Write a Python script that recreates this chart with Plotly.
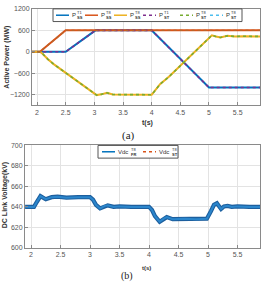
import plotly.graph_objects as go

W, H = 264, 285

# ---------------- data ----------------
t_p1_ss = [1.9, 2.5, 3.02, 4.0, 5.0, 5.9]
p1_ss = [0, 0, 600, 600, -1000, -1000]

t_p8a_ss = [1.9, 2.05, 2.5, 5.9]
p8a_ss = [0, 0, 600, 600]

t_p8b_ss = [1.9, 2.05, 2.1, 2.19, 2.29, 3.04, 3.12, 3.22, 3.32, 3.5, 4.0, 4.05, 4.15,
            4.3, 5.05, 5.12, 5.2, 5.32, 5.45, 5.6, 5.9]
p8b_ss = [0, 0, -60, -210, -345, -1210, -1190, -1145, -1195, -1200, -1200, -1100, -900,
          -700, 460, 430, 400, 445, 430, 435, 430]

t_vdc = [1.9, 2.05, 2.1, 2.16, 2.25, 2.35, 2.45, 2.6, 2.8, 3.0, 3.05, 3.1, 3.17, 3.25,
         3.3, 3.4, 3.5, 3.7, 4.0, 4.05, 4.1, 4.18, 4.25, 4.3, 4.4, 4.6, 4.8, 4.98, 5.05,
         5.1, 5.15, 5.22, 5.27, 5.33, 5.4, 5.5, 5.7, 5.9]
vdc_fr = [640, 640, 645, 650.5, 647.5, 649.5, 650, 649, 649.5, 649.5, 647, 642, 638.5, 641,
          641.5, 640, 640.5, 640, 640, 637, 631, 625.5, 628.5, 630, 628, 628.5, 628, 628.5, 636,
          642, 643.5, 638, 640.5, 641, 640, 640.5, 640, 640]

top_yticks = [-1200, -600, 0, 600, 1200]
bot_yticks = [600, 620, 640, 660, 680, 700]
xticks = [2, 2.5, 3, 3.5, 4, 4.5, 5, 5.5]
xticklabels = ["2", "2.5", "3", "3.5", "4", "4.5", "5", "5.5"]

BLUE = "#0072BD"
ORANGE = "#D95319"
YELLOW = "#EDB120"
PURPLE = "#7E2F8E"
GREEN = "#77AC30"
CYAN = "#4DBEEE"


def px(x):
    return x / W


def py(y):
    return 1 - y / H


fig = go.Figure()

# top panel: solid SS lines then dotted ST overlays
fig.add_trace(go.Scatter(x=t_p1_ss, y=p1_ss, mode="lines", line=dict(color=BLUE, width=2),
                         xaxis="x", yaxis="y", showlegend=False))
fig.add_trace(go.Scatter(x=t_p8a_ss, y=p8a_ss, mode="lines", line=dict(color=ORANGE, width=2),
                         xaxis="x", yaxis="y", showlegend=False))
fig.add_trace(go.Scatter(x=t_p8b_ss, y=p8b_ss, mode="lines", line=dict(color=YELLOW, width=2),
                         xaxis="x", yaxis="y", showlegend=False))
fig.add_trace(go.Scatter(x=t_p1_ss, y=p1_ss, mode="lines",
                         line=dict(color=PURPLE, width=1.6, dash="dot"),
                         xaxis="x", yaxis="y", showlegend=False))
fig.add_trace(go.Scatter(x=t_p8b_ss, y=p8b_ss, mode="lines",
                         line=dict(color=GREEN, width=1.6, dash="dot"),
                         xaxis="x", yaxis="y", showlegend=False))
fig.add_trace(go.Scatter(x=t_p8a_ss, y=p8a_ss, mode="lines",
                         line=dict(color="#B8652A", width=1.4, dash="dot"),
                         xaxis="x", yaxis="y", showlegend=False))

# bottom panel
fig.add_trace(go.Scatter(x=t_vdc, y=vdc_fr, mode="lines", line=dict(color=ORANGE, width=1.5, dash="dot"),
                         xaxis="x2", yaxis="y2", showlegend=False))
fig.add_trace(go.Scatter(x=t_vdc, y=vdc_fr, mode="lines", line=dict(color="#1d5f9e", width=4.2),
                         xaxis="x2", yaxis="y2", showlegend=False))
fig.add_trace(go.Scatter(x=t_vdc, y=vdc_fr, mode="lines", line=dict(color="#2b86cc", width=2),
                         xaxis="x2", yaxis="y2", showlegend=False))

FONT = "Liberation Sans, Arial, sans-serif"
TICKF = dict(family=FONT, size=7, color="#555555")
axcommon = dict(showline=True, linecolor="#8a8a8a", linewidth=1, mirror=True,
                ticks="inside", ticklen=3, tickcolor="#8a8a8a",
                showgrid=True, gridcolor="#e3e3e3", gridwidth=1,
                zeroline=False, tickfont=TICKF)

fig.update_layout(
    width=W, height=H, margin=dict(l=0, r=0, t=0, b=0),
    paper_bgcolor="white", plot_bgcolor="white", showlegend=False,
    xaxis=dict(domain=[px(32), px(260)], range=[1.912, 5.89], tickvals=xticks,
               ticktext=xticklabels, anchor="y", **axcommon),
    yaxis=dict(domain=[py(104), py(5)], range=[-1500, 1200], tickvals=top_yticks,
               anchor="x", **axcommon),
    xaxis2=dict(domain=[px(25), px(260)], range=[1.898, 5.88], tickvals=xticks,
                ticktext=xticklabels, anchor="y2", **axcommon),
    yaxis2=dict(domain=[py(250), py(145)], range=[600, 700], tickvals=bot_yticks,
                anchor="x2", **axcommon),
)

ann = []
shapes = []

# axis titles and captions
ann.append(dict(x=px(7), y=py(55), xref="paper", yref="paper", text="<b>Active Power (MW)</b>",
                textangle=-90, xanchor="center", yanchor="middle", showarrow=False,
                font=dict(family=FONT, size=7, color="#333333")))
ann.append(dict(x=px(5), y=py(196), xref="paper", yref="paper", text="<b>DC Link Voltage(kV)</b>",
                textangle=-90, xanchor="center", yanchor="middle", showarrow=False,
                font=dict(family=FONT, size=7, color="#333333")))
ann.append(dict(x=px(147), y=py(122), xref="paper", yref="paper", text="<b>t(s)</b>",
                xanchor="center", yanchor="middle",
                showarrow=False, font=dict(family=FONT, size=7, color="#333333")))
ann.append(dict(x=px(146), y=py(271), xref="paper", yref="paper", text="<b>t(s)</b>",
                xanchor="center", yanchor="middle",
                showarrow=False, font=dict(family=FONT, size=6, color="#333333")))
ann.append(dict(x=px(128), y=py(135), xref="paper", yref="paper", text="(a)",
                xanchor="center", yanchor="middle", showarrow=False,
                font=dict(family="Liberation Serif, Times New Roman, serif", size=11, color="#222222")))
ann.append(dict(x=px(127), y=py(279), xref="paper", yref="paper", text="(b)",
                xanchor="center", yanchor="middle", showarrow=False,
                font=dict(family="Liberation Serif, Times New Roman, serif", size=10, color="#222222")))


def legend_box(x0, x1, y0, y1):
    shapes.append(dict(type="rect", xref="paper", yref="paper", x0=px(x0), x1=px(x1),
                       y0=py(y1), y1=py(y0), line=dict(color="#555555", width=1),
                       fillcolor="white", layer="above"))


def legend_entry(xs, yc, color, dash, base, sup, sub, ln=13):
    shapes.append(dict(type="line", xref="paper", yref="paper", x0=px(xs), x1=px(xs + ln),
                       y0=py(yc), y1=py(yc), line=dict(color=color, width=1.5, dash=dash),
                       layer="above"))
    ann.append(dict(x=px(xs + ln + 1), y=py(yc), xref="paper", yref="paper", text=base,
                    xanchor="left", yanchor="middle", showarrow=False,
                    font=dict(family=FONT, size=6, color="#333333")))
    off = 5 if base == "P" else 13
    ann.append(dict(x=px(xs + ln + 1 + off), y=py(yc - 2.6), xref="paper", yref="paper", text=sup,
                    xanchor="left", yanchor="middle", showarrow=False,
                    font=dict(family=FONT, size=4, color="#333333")))
    ann.append(dict(x=px(xs + ln + 1 + off), y=py(yc + 2.8), xref="paper", yref="paper",
                    text="<b>" + sub + "</b>", xanchor="left", yanchor="middle", showarrow=False,
                    font=dict(family=FONT, size=4, color="#333333")))


legend_box(53, 242, 5, 18)
starts = [56, 85, 114, 143, 180, 210]
entries = [(BLUE, "solid", "T1", "SS"), (ORANGE, "solid", "T8", "SS"), (YELLOW, "solid", "T8", "SS"),
           (PURPLE, "dot", "T1", "ST"), (GREEN, "dot", "T8", "ST"), (CYAN, "dot", "T8", "ST")]
for xs, (c, d, sp, sb) in zip(starts, entries):
    legend_entry(xs, 11.5, c, d, "P", sp, sb)

legend_box(98, 178, 145, 158)
legend_entry(102, 151.5, BLUE, "solid", "Vdc", "T8", "FR")
legend_entry(143, 151.5, ORANGE, "dot", "Vdc", "T8", "ST")

fig.update_layout(annotations=ann, shapes=shapes)

fig.write_html("out.html")
